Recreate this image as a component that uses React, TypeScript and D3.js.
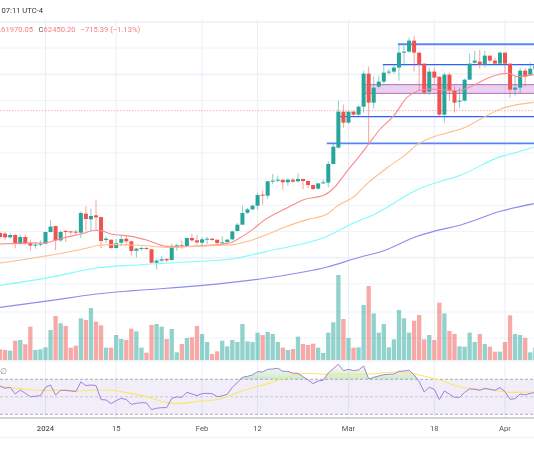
import React from "react";
import * as d3 from "d3";

// daily candles, first one is Dec 23 2023
const firstDay = new Date(Date.UTC(2023, 11, 23));
const opens = [43770,43670,43110,43460,42240,43160,42290,41940,41990,42140,43920,44840,42650,44080,44020,43970,43820,46720,45860,46470,46210,42700,42750,41480,42290,42900,42500,41070,41380,41480,41280,39240,39550,39800,39650,41580,41890,41680,43010,42650,42290,42800,42900,42750,42240,42400,42800,44080,45040,46870,47380,47940,49620,49470,51660,51760,51910,51510,51910,51660,52020,51710,51100,50540,51400,51460,54310,56800,62300,60620,62300,61840,63060,68100,63670,66120,66880,68340,68410,69020,71310,71460,73140,71310,69630,65350,68410,67640,61840,67950,65500,63830,63980,67180,69780,69930,69470,70850,70090,69630,71310,69630,65660,65960,68560,67950,68860];
const highs = [43970,43920,43720,43620,43520,43520,42750,42340,42650,43970,45700,44840,44180,44230,44020,44280,47080,47840,47480,48860,46210,43260,42750,42850,43410,43360,42600,41480,41680,41630,41330,39850,40210,39950,42090,42090,42600,43060,43620,43520,43110,43210,43010,42750,43260,42900,44130,45300,47990,47590,48100,49880,50230,51760,52780,52520,51910,52170,52170,52880,52020,51710,51100,51400,51910,54710,57360,63980,63370,62300,62450,63210,68560,69170,67640,67800,69470,68860,69470,72680,72380,73600,73900,71310,69630,69020,69020,67640,68250,68250,66270,65960,67340,71150,71610,71760,71610,70850,70540,71460,71310,69630,67800,69020,68860,69780,69600];
const lows = [42900,42750,42850,41430,41890,41890,41070,41380,41730,42090,43820,41170,42400,42400,43520,43410,43010,44130,44130,44230,41480,42240,41380,41380,41730,41890,40310,40050,41070,41220,39140,38220,39390,39290,39550,41070,41330,41630,42400,41990,41630,42090,42600,41990,41890,42240,42700,44020,45040,46670,47330,47330,48100,48960,51250,51510,50390,51000,51400,51510,50490,50640,50340,50390,51250,50740,54310,56700,59850,60470,61690,61690,62150,57410,62760,65810,66570,67950,68100,67030,69320,71310,68410,65500,65050,64890,66570,61690,60620,63980,62150,62910,63830,67180,69630,68860,69020,69780,69630,69630,67950,64430,64740,65050,66120,67800,68000];
const closes = [43160,43110,43460,42240,43160,42240,41840,41990,42140,43920,44740,42650,43920,43970,43870,43820,46820,45910,46370,46160,42550,42900,41480,42190,42850,42500,41020,41380,41480,41330,39240,39550,39750,39600,41580,41890,41680,43010,42650,42340,42800,42900,42700,42240,42340,42750,44020,45040,46820,47380,47940,49570,49520,51660,51760,51910,51510,51910,51610,52020,51710,51100,50490,51350,51510,54310,56950,62300,60620,62300,61840,63060,68100,63670,65960,66880,68250,68410,69020,71310,71460,73140,71310,69470,65200,68410,67490,61840,67950,65500,63670,63980,67180,69630,70090,69470,70850,70090,69630,71310,69630,65660,65960,68560,67640,68860,69300];
const volumes = [32,30,28,58,60,47,100,30,32,38,90,132,110,102,37,43,125,120,156,115,104,37,37,75,63,60,94,86,37,22,105,108,100,63,93,23,48,66,68,102,78,54,18,26,58,41,60,54,108,56,54,82,75,84,78,54,37,30,33,70,48,45,49,37,21,82,113,255,123,66,37,38,165,222,140,82,108,38,62,150,125,82,118,135,62,75,60,172,140,87,78,41,40,82,54,78,48,40,25,25,54,134,78,75,66,23,37];
const rsi = [62.4,59.7,60.9,53.2,57.8,54,50.2,50.6,51.3,60.9,63.5,52.1,57.4,57.4,56.7,55.9,67,62.8,63.5,62.8,46.8,46.4,42.2,45.6,48.3,46.8,41.4,42.6,43.3,43,35.3,36.9,37.6,37.6,48.3,49.8,49.4,55.1,53.2,51.3,53.6,54,53.6,50.2,51,52.9,60.9,66.2,72.3,73.4,75,78.8,78.4,81.4,81.8,82.6,79.1,79.1,76.9,76.9,73,69.2,65.1,68.1,68.9,77.2,82.2,87.2,79.9,81.4,79.9,80.7,85.2,70.4,72.3,73.8,75.3,75.7,76.1,79.1,79.5,80.3,75,67.3,55.5,60.9,58.6,46.8,56.7,52.9,49.4,49.4,55.1,59,58.6,57.4,59.7,58.6,57.4,60.5,55.9,47.1,47.9,53.2,52.1,54,54.8];

const ma20Days = [-9,-5,0,3,7,10,11,13,17,20,24,27,31,35,37,39,41,43,47.8,51.1,55.1,57.1,59.7,62.4,64,66.3,69,71.6,73.6,76.2,78.9,81.5,84.2,86.8,90.1,91.7,93.4,96.7];
const ma20 = [42090,42190,42290,42900,43620,44180,44130,43620,43260,42700,41730,41680,41840,42090,42400,43260,44280,45550,47590,48860,49520,50640,53190,55730,57360,59650,61690,64490,65400,65760,65600,65500,66110,67130,68050,68150,67640,67950];
const ma50Days = [-9,-2.4,6.8,10.8,13.4,18.7,24,30.6,37.2,40.5,43.8,47.8,51.8,55.8,57.7,61.7,63,67.6,71.3,73.6,76.9,79.5,82.8,86.8,90.1,96.7];
const ma50 = [39190,39950,41220,41890,41990,41890,41580,41790,41990,42600,43520,44790,45810,46670,47840,49720,50790,53690,55730,57260,58480,59040,59800,61430,62700,63720];
const ma100Days = [-9,0.9,10.1,18.7,28,37.2,43.8,55.8,61,65,73.6,82.4,90.7,92.4,96.7];
const ma100 = [35780,37000,38420,38930,39340,39850,40970,43260,45300,46570,50390,52680,55580,55900,56850];
const ma200Days = [-9,0.9,10.1,17.4,30.6,43.8,55.8,61.7,67,73.6,76.9,82.4,90.1,96.7];
const ma200 = [32420,33440,34450,34970,35730,36900,38580,39950,41070,43260,44020,45040,47080,48250];
const rsiMaDays = [-9,-5,-1,4.2,6.8,10.1,12.8,16,20,24,26,30.6,34.5,38.5,43.8,47.8,51.8,55.7,63.7,69.6,72.2,77.5,83.4,88.7,92,96.7];
const rsiMa = [61.6,59.3,57.4,57.4,56.7,57.8,57.4,54.8,50.2,43.3,42.2,44.9,47.5,55.9,64.8,72.3,76.9,75.7,76.1,78.4,76.9,70,59.7,57.8,55.1,55.5];

// grid and axis
const priceGrid = [76000,72000,68000,64000,60000,56000,52000,48000,44000,40000,36000];
const heavyGrid = [76000,68000,40000];
const timeTicks = [[0,"2024"],[14,"15"],[31,"Feb"],[42,"12"],[60,"Mar"],[77,"18"],[91,"Apr"]] as [number,string][];

// drawings: price, start day, line width
const lastPrice = 62450;
const hLines = [[72570,69.8,2],[69470,66.8,1.3],[61540,58.3,1.3],[57460,55.7,1.8]] as [number,number,number][];
const zoneTop = 66420;
const zoneBottom = 65090;
const zoneStartDay = 63.3;

const width = 534;
const height = 462;
const upColor = "#26a69a";
const downColor = "#ef5350";
const font = "Roboto, sans-serif";

const jan1 = new Date(Date.UTC(2024, 0, 1));
const dayDate = (d: number) => new Date(jan1.getTime() + d * 86400000);

const x = d3.scaleUtc().domain([jan1, dayDate(91)]).range([45.5, 505]);
const xDay = (d: number) => x(dayDate(d));
const xCandle = (i: number) => x(d3.utcDay.offset(firstDay, i));
const y = d3.scaleLinear().domain([76000, 36000]).range([21.9, 283.9]);
const yVol = d3.scaleLinear().domain([0, 300]).range([360, 260]);
const yRsi = d3.scaleLinear().domain([30, 70]).range([414.3, 379.3]);

const maLine = d3.line<number>().curve(d3.curveMonotoneX);
function maPath(days: number[], values: number[], yScale: d3.ScaleLinear<number, number>) {
  return maLine(days.map((d, i) => [xDay(d), yScale(values[i])]) as any) || "";
}

const rsiPath = d3.line<number>()
  .x((_, i) => xCandle(i))
  .y((d) => yRsi(d))(rsi) || "";
const rsiOver = d3.area<number>()
  .x((_, i) => xCandle(i))
  .y0(yRsi(70))
  .y1((d) => yRsi(Math.max(d, 70)))(rsi) || "";

export default function App() {
  return (
    <svg width={width} height={height} style={{ position: "absolute", left: 0, top: 0, background: "#fff", filter: "blur(0.3px)" }} fontFamily={font}>
      <defs>
        <linearGradient id="over" x1="0" y1="0" x2="0" y2="1">
          <stop offset="0" stopColor="#4caf50" stopOpacity={0.03} />
          <stop offset="1" stopColor="#4caf50" stopOpacity={0.28} />
        </linearGradient>
      </defs>

      {/* 格線 */}
      {priceGrid.map((p) => (
        <line key={p} x1={0} x2={width} y1={y(p)} y2={y(p)} stroke="#f0f3fa" strokeWidth={heavyGrid.includes(p) ? 2 : 1} />
      ))}
      <line x1={0} x2={width} y1={312} y2={312} stroke="#f0f3fa" />
      <line x1={0} x2={width} y1={338} y2={338} stroke="#f0f3fa" />
      {timeTicks.map(([d, label]) => (
        <line key={label} x1={xDay(d)} x2={xDay(d)} y1={19} y2={418} stroke="#e9eff5" />
      ))}

      {/* 量 */}
      {volumes.map((v, i) => (
        <rect key={i} x={xCandle(i) - 2.15} width={4.3} y={yVol(v)} height={yVol(0) - yVol(v)}
          fill={closes[i] >= opens[i] ? upColor : downColor} opacity={0.5} />
      ))}
      <line x1={0} x2={width} y1={361} y2={361} stroke="#e8ebf2" strokeWidth={1.2} />

      {/* 區間與水平線 */}
      <rect x={xDay(zoneStartDay)} width={width - xDay(zoneStartDay)} y={y(zoneTop)} height={y(zoneBottom) - y(zoneTop)} fill="#ba68c8" fillOpacity={0.3} />
      <line x1={xDay(zoneStartDay)} x2={width} y1={y(zoneTop)} y2={y(zoneTop)} stroke="#ba68c8" />
      <line x1={xDay(zoneStartDay)} x2={width} y1={y(zoneBottom)} y2={y(zoneBottom)} stroke="#ba68c8" />
      <line x1={0} x2={width} y1={y(lastPrice)} y2={y(lastPrice)} stroke="#ef5350" strokeOpacity={0.55} strokeWidth={0.8} strokeDasharray="1.5 1.5" />
      {hLines.map(([p, d, w]) => (
        <line key={p} x1={xDay(d)} x2={width} y1={y(p)} y2={y(p)} stroke={w > 1.5 ? "#5a85ff" : "#2962ff"} strokeWidth={w} />
      ))}

      {/* K 線 */}
      {opens.map((o, i) => {
        const c = closes[i];
        const color = c >= o ? upColor : downColor;
        const top = y(Math.max(o, c));
        const h = Math.max(y(Math.min(o, c)) - top, 1);
        return (
          <g key={i}>
            <line x1={xCandle(i)} x2={xCandle(i)} y1={y(highs[i])} y2={y(lows[i])} stroke={color} strokeOpacity={0.6} strokeWidth={0.9} />
            <rect x={xCandle(i) - 2} width={4} y={top} height={h} fill={color} />
          </g>
        );
      })}

      {/* 均線 */}
      <path d={maPath(ma20Days, ma20, y)} fill="none" stroke="#f88b8e" strokeWidth={1.1} />
      <path d={maPath(ma50Days, ma50, y)} fill="none" stroke="#ffbe85" strokeWidth={1.1} />
      <path d={maPath(ma100Days, ma100, y)} fill="none" stroke="#80fbfb" strokeWidth={1.1} />
      <path d={maPath(ma200Days, ma200, y)} fill="none" stroke="#8d8cf0" strokeWidth={1.1} />

      {/* RSI */}
      <rect x={0} width={width} y={yRsi(70)} height={yRsi(30) - yRsi(70)} fill="#7e57c2" fillOpacity={0.1} />
      <path d={rsiOver} fill="url(#over)" />
      {[70, 50, 30].map((l) => (
        <line key={l} x1={0} x2={width} y1={yRsi(l)} y2={yRsi(l)} stroke="#8f8f9c" strokeOpacity={l === 50 ? 0.5 : 0.9} strokeWidth={0.8} strokeDasharray="3 2" />
      ))}
      <path d={maPath(rsiMaDays, rsiMa, yRsi)} fill="none" stroke="#f8e76a" strokeWidth={1.1} />
      <path d={rsiPath} fill="none" stroke="#a081dc" strokeWidth={1} />
      <text x={0} y={374} fontSize={8} fill="#8a8a8a">∅</text>

      {/* 時間軸 */}
      <line x1={0} x2={width} y1={418} y2={418} stroke="#a9a9a9" strokeWidth={1.2} />
      <line x1={0} x2={width} y1={437.3} y2={437.3} stroke="#f0f1f4" />
      {timeTicks.map(([d, label]) => (
        <text key={label} x={xDay(d)} y={431} fontSize={7.6} textAnchor="middle" fill="#50535e" fontWeight={label === "2024" ? 500 : 400}>{label}</text>
      ))}

      {/* 標頭 */}
      <text x={43} y={13} fontSize={7.6} textAnchor="end" fill="#333">07:11 UTC-4</text>
      <g fontSize={7.6} fill="#f77c80">
        <text x={33} y={32} textAnchor="end">L61970.05</text>
        <text x={38.5} y={32} fill="#555">C</text>
        <text x={43.6} y={32}>62450.20</text>
        <text x={80.6} y={32}>−715.39 (−1.13%)</text>
      </g>
    </svg>
  );
}
